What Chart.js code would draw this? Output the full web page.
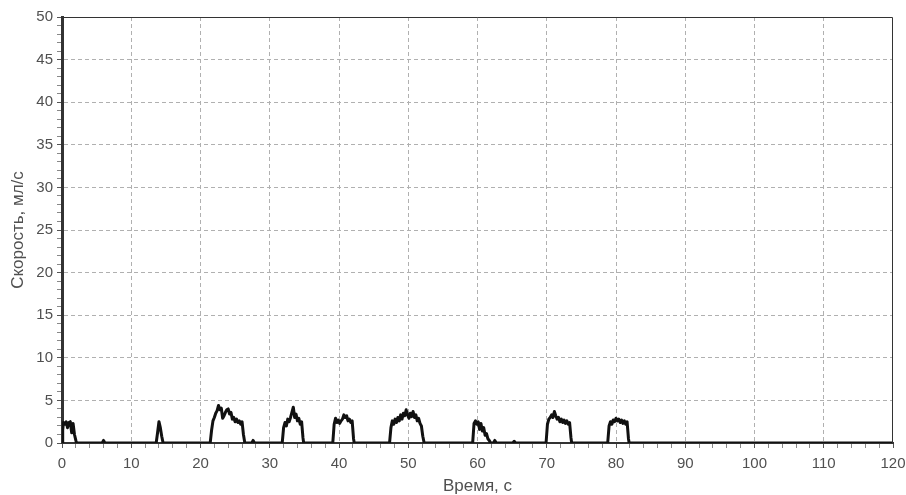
<!DOCTYPE html>
<html>
<head>
<meta charset="utf-8">
<script src="https://cdn.jsdelivr.net/npm/chart.js@4/dist/chart.umd.min.js"></script>
<style>
html,body{margin:0;padding:0;background:#fff;}
#wrap{width:906px;height:495px;position:relative;}
</style>
</head>
<body>
<div id="wrap"><canvas id="c" width="906" height="495"></canvas></div>
<script>
// Time, s
const times = [
  0, 0.1, 0.2, 0.4, 0.6, 0.8, 1.0, 1.2, 1.4, 1.6, 1.8, 2.0, 2.1,
  5.8, 6.0, 6.2,
  13.6, 13.8, 14.0, 14.2, 14.4, 14.6,
  21.4, 21.6, 21.8, 22.0, 22.2, 22.4, 22.6, 22.8, 23.0, 23.2, 23.4, 23.6, 23.8, 24.0, 24.2, 24.4, 24.6, 24.8, 25.0, 25.2, 25.4, 25.6, 25.8, 26.0, 26.2, 26.4,
  27.4, 27.6, 27.8,
  31.8, 32.0, 32.2, 32.4, 32.6, 32.8, 33.0, 33.2, 33.4, 33.6, 33.8, 34.0, 34.2, 34.4, 34.6, 34.8, 34.9,
  39.1, 39.3, 39.5, 39.7, 39.9, 40.1, 40.3, 40.5, 40.7, 40.9, 41.1, 41.3, 41.5, 41.7, 41.9, 42.1, 42.2,
  47.3, 47.5, 47.7, 47.9, 48.1, 48.3, 48.5, 48.7, 48.9, 49.1, 49.3, 49.5, 49.7, 49.9, 50.1, 50.3, 50.5, 50.7, 50.9, 51.1, 51.3, 51.5, 51.7, 51.9, 52.1, 52.3,
  59.3, 59.5, 59.7, 59.9, 60.1, 60.3, 60.5, 60.7, 60.9, 61.1, 61.3, 61.5, 61.7, 61.9,
  62.3, 62.5, 62.7,
  65.1, 65.3, 65.5,
  69.9, 70.1, 70.3, 70.5, 70.7, 70.9, 71.1, 71.3, 71.5, 71.7, 71.9, 72.1, 72.3, 72.5, 72.7, 72.9, 73.1, 73.3, 73.5, 73.6,
  78.8, 79.0, 79.2, 79.4, 79.6, 79.8, 80.0, 80.2, 80.4, 80.6, 80.8, 81.0, 81.2, 81.4, 81.6, 81.8, 81.9,
  120
];
// Speed, ml/s
const speeds = [
  0, 1.5, 2.4, 2.2, 2.5, 1.8, 2.4, 2.5, 1.2, 2.3, 1.0, 0.3, 0,
  0, 0.3, 0,
  0, 1.2, 2.5, 1.8, 0.8, 0,
  0, 1.5, 2.6, 3.0, 3.5, 3.8, 4.4, 3.9, 4.1, 2.9, 3.2, 3.6, 3.9, 4.0, 3.4, 3.6, 2.8, 3.0, 2.5, 2.8, 2.4, 2.6, 2.2, 2.5, 1.0, 0,
  0, 0.3, 0,
  0, 1.8, 2.4, 2.0, 2.8, 2.5, 3.0, 3.6, 4.2, 3.0, 3.4, 2.6, 2.9, 2.2, 2.5, 0.6, 0,
  0, 2.2, 2.9, 2.4, 2.7, 2.3, 2.6, 2.8, 3.3, 3.0, 3.2, 2.6, 2.8, 2.4, 2.6, 0.5, 0,
  0, 1.8, 2.6, 2.2, 2.8, 2.4, 3.0, 2.6, 3.3, 2.8, 3.5, 3.2, 3.9, 3.3, 2.9, 3.5, 3.1, 3.7, 3.0, 3.3, 2.6, 2.9, 2.3, 2.0, 0.8, 0,
  0, 2.3, 2.6, 2.2, 2.5, 1.6, 2.3, 1.4, 1.8, 0.9, 1.1, 0.5, 0.3, 0,
  0, 0.3, 0,
  0, 0.2, 0,
  0, 2.2, 2.8, 3.0, 3.3, 3.0, 3.7, 3.2, 2.8, 3.0, 2.5, 2.8, 2.4, 2.7, 2.3, 2.6, 2.2, 2.4, 0.6, 0,
  0, 2.0, 2.5, 2.2, 2.7, 2.5, 2.9, 2.6, 2.8, 2.4, 2.7, 2.3, 2.6, 2.2, 2.5, 0.5, 0,
  0
];
const xMin = 0, xMax = 120, xMajor = 10, xMinor = 2;
const yMin = 0, yMax = 50, yMajor = 5, yMinor = 1;
const xTitle = 'Время, с';
const yTitle = 'Скорость, мл/с';

const points = times.map((t, i) => ({x: t, y: speeds[i]}));
const TICK_FONT = {family: '"Liberation Sans", Arial, sans-serif', size: 15};
const TITLE_FONT = {family: '"Liberation Sans", Arial, sans-serif', size: 17, lineHeight: 1.0};
const TXT = '#505050';

const frame = {
  id: 'frame',
  afterDraw(chart) {
    const {ctx, chartArea: a} = chart;
    ctx.save();
    ctx.strokeStyle = '#333';
    ctx.lineWidth = 1;
    ctx.setLineDash([]);
    ctx.beginPath();
    ctx.moveTo(a.left, a.top + 0.5);
    ctx.lineTo(a.right - 0.5, a.top + 0.5);
    ctx.lineTo(a.right - 0.5, a.bottom);
    ctx.stroke();
    ctx.restore();
  }
};

const isMajor = (v, m) => Math.abs(v / m - Math.round(v / m)) < 1e-6;

new Chart(document.getElementById('c'), {
  type: 'line',
  data: {
    datasets: [{
      data: points,
      borderColor: '#111',
      borderWidth: 3,
      pointRadius: 0,
      tension: 0,
      fill: false,
      borderJoinStyle: 'round'
    }]
  },
  options: {
    responsive: false,
    animation: false,
    layout: {padding: {top: 17, right: 13, left: 0, bottom: 0}},
    plugins: {legend: {display: false}, tooltip: {enabled: false}},
    scales: {
      x: {
        type: 'linear',
        min: xMin, max: xMax,
        afterFit(s) { s.height = 52; s.paddingRight = 0; s.paddingLeft = 0; },
        afterBuildTicks(s) {
          const t = [];
          for (let v = xMin; v <= xMax + 1e-9; v += xMinor) t.push({value: Math.round(v * 1000) / 1000});
          s.ticks = t;
        },
        ticks: {
          autoSkip: false, maxRotation: 0, padding: 7,
          color: TXT, font: TICK_FONT,
          callback: (v) => isMajor(v, xMajor) ? String(v) : ''
        },
        grid: {
          color: (c) => isMajor(c.tick.value, xMajor) && c.tick.value !== xMin && c.tick.value !== xMax ? '#b0b0b0' : 'rgba(0,0,0,0)',
          tickColor: (c) => isMajor(c.tick.value, xMajor) ? '#555' : '#888',
          tickLength: 5,
          tickBorderDash: [],
          lineWidth: 1
        },
        border: {display: true, color: '#333', width: 2, dash: [4, 3]},
        title: {display: true, text: xTitle, color: TXT, font: TITLE_FONT, padding: {top: 0, bottom: 0}}
      },
      y: {
        type: 'linear',
        min: yMin, max: yMax,
        afterFit(s) { s.width = 62; s.paddingTop = 0; s.paddingBottom = 0; },
        afterBuildTicks(s) {
          const t = [];
          for (let v = yMin; v <= yMax + 1e-9; v += yMinor) t.push({value: v});
          s.ticks = t;
        },
        ticks: {
          autoSkip: false, padding: 4,
          color: TXT, font: TICK_FONT,
          callback: (v) => isMajor(v, yMajor) ? String(v) : ''
        },
        grid: {
          color: (c) => isMajor(c.tick.value, yMajor) && c.tick.value !== yMin && c.tick.value !== yMax ? '#b0b0b0' : 'rgba(0,0,0,0)',
          tickColor: (c) => isMajor(c.tick.value, yMajor) ? '#555' : '#888',
          tickLength: 5,
          tickBorderDash: [],
          lineWidth: 1
        },
        border: {display: true, color: '#333', width: 3, dash: [4, 3]},
        title: {display: true, text: yTitle, color: TXT, font: TITLE_FONT, padding: {top: 10, bottom: 0}}
      }
    }
  },
  plugins: [frame]
});
</script>
</body>
</html>
